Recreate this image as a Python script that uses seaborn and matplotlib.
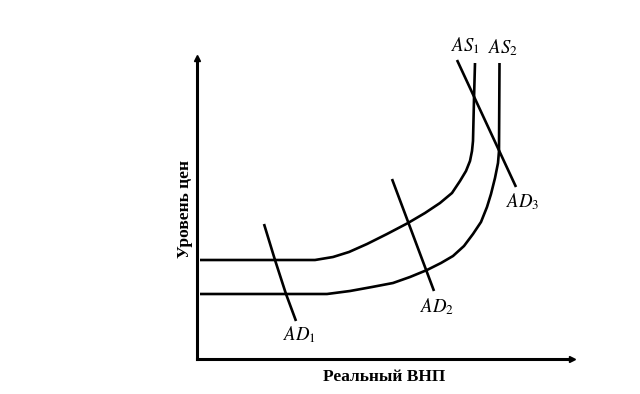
import matplotlib
matplotlib.use("Agg")
import matplotlib.pyplot as plt
import seaborn as sns
import pandas as pd

as1_x = [3, 118, 136, 152, 170, 190, 211, 228, 243, 255, 263, 269, 273, 275, 276, 277, 278]
as1_y = [99, 99, 102, 107, 115, 125, 136, 146, 156, 166, 178, 188, 198, 208, 218, 260, 296]

as2_x = [3, 130, 153, 175, 196, 213, 230, 244, 256, 267, 276, 284, 290, 294, 298, 301, 302, 302.5]
as2_y = [65, 65, 68, 72, 76, 82, 89, 96, 103, 113, 125, 137, 152, 165, 181, 196, 208, 296]

ad1_x = [67, 78, 89, 99]
ad1_y = [135, 99, 65, 38]
ad2_x = [195, 237]
ad2_y = [180, 68]
ad3_x = [260, 319]
ad3_y = [299, 172]

labels = ["$AS_1$", "$AS_2$", "$AD_1$", "$AD_2$", "$AD_3$"]
label_x = [268, 306, 103, 240, 326]
label_y = [313, 311, 24, 52, 157]

sns.set_theme(style="white")
plt.rcParams["mathtext.fontset"] = "stix"
plt.rcParams["font.family"] = ["Liberation Serif", "DejaVu Serif"]

fig = plt.figure(figsize=(6.4, 3.94), dpi=100)
ax = fig.add_axes([197 / 640, (394 - 359) / 394, (572 - 197) / 640, (359 - 58) / 394])

curves = [(as1_x, as1_y), (as2_x, as2_y), (ad1_x, ad1_y), (ad2_x, ad2_y), (ad3_x, ad3_y)]
for cx, cy in curves:
    df = pd.DataFrame({"x": cx, "y": cy})
    sns.lineplot(data=df, x="x", y="y", sort=False, color="black", lw=1.9,
                 ax=ax, solid_joinstyle="round", solid_capstyle="butt")

for lab, lx, ly in zip(labels, label_x, label_y):
    ax.text(lx, ly, lab, ha="center", va="center", fontsize=13.5, color="black",
            clip_on=False)

ax.set_xlim(0, 375)
ax.set_ylim(0, 301)
ax.set_xticks([])
ax.set_yticks([])
for side in ["top", "right"]:
    ax.spines[side].set_visible(False)
for side in ["left", "bottom"]:
    ax.spines[side].set_color("black")
    ax.spines[side].set_linewidth(2.2)

# small arrow tips at the axis ends
ax.plot(1, 0, ">", color="black", ms=4, transform=ax.transAxes, clip_on=False)
ax.plot(0, 1, "^", color="black", ms=4, transform=ax.transAxes, clip_on=False)

ax.set_xlabel("Реальный ВНП", fontsize=12.5, fontweight="bold", color="black", labelpad=7)
ax.set_ylabel("Уровень цен", fontsize=12.5, fontweight="bold", color="black", labelpad=3)

fig.savefig("out.png", dpi=100, facecolor="white")
